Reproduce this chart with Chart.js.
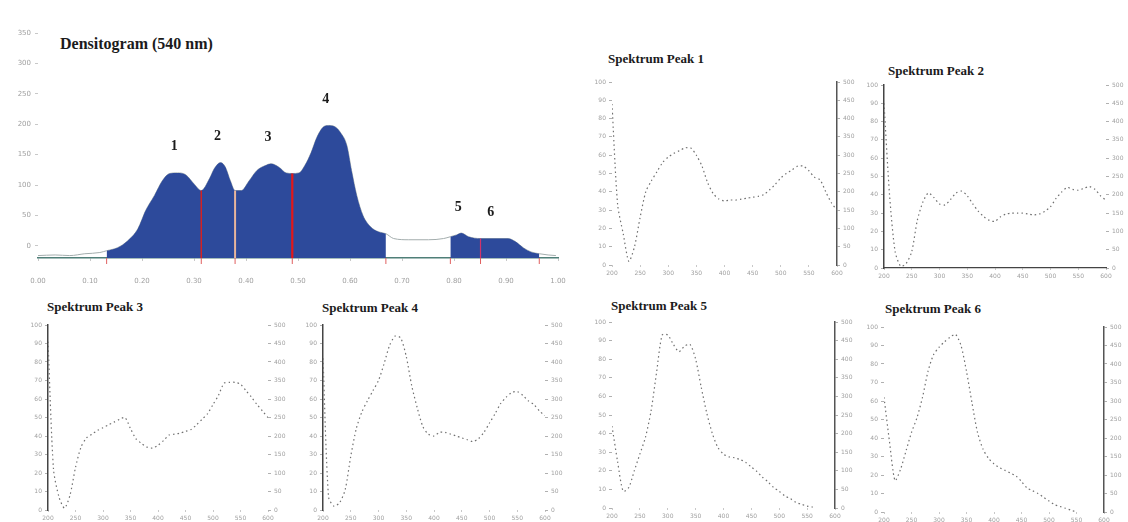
<!DOCTYPE html>
<html>
<head>
<meta charset="utf-8">
<script src="https://cdn.jsdelivr.net/npm/chart.js@4.4.1/dist/chart.umd.min.js"></script>
<style>
  body { margin: 0; background: #fff; width: 1128px; height: 522px; position: relative; overflow: hidden; }
  .ttl { position: absolute; font-family: "Liberation Serif", serif; font-weight: bold; color: #1b1b1b; white-space: nowrap; }
</style>
</head>
<body>
<div class="ttl" style="left:60px;top:35px;font-size:16px">Densitogram (540 nm)</div>
<div class="ttl" style="left:608px;top:51px;font-size:13px">Spektrum Peak 1</div>
<div class="ttl" style="left:888px;top:63px;font-size:13px">Spektrum Peak 2</div>
<div class="ttl" style="left:47px;top:299px;font-size:13px">Spektrum Peak 3</div>
<div class="ttl" style="left:322px;top:300px;font-size:13px">Spektrum Peak 4</div>
<div class="ttl" style="left:611px;top:298px;font-size:13px">Spektrum Peak 5</div>
<div class="ttl" style="left:885px;top:301px;font-size:13px">Spektrum Peak 6</div>
<script>
// densitogram (Rf vs AU)
const densX = [0.000, 0.033, 0.061, 0.090, 0.119, 0.132, 0.153, 0.172, 0.192, 0.207, 0.224, 0.239, 0.253, 0.268, 0.284, 0.301,
  0.314, 0.330, 0.339, 0.351, 0.360, 0.370, 0.379, 0.391, 0.406, 0.421, 0.437, 0.448, 0.464, 0.477, 0.489, 0.502,
  0.513, 0.525, 0.536, 0.548, 0.559, 0.571, 0.582, 0.594, 0.603, 0.613, 0.625, 0.640, 0.655, 0.669, 0.684, 0.713,
  0.751, 0.780, 0.793, 0.805, 0.814, 0.828, 0.851, 0.875, 0.904, 0.918, 0.933, 0.948, 0.964, 0.981, 0.996];
const densY = [-16, -15, -16, -13, -11, -8, -3, 8, 28, 58, 83, 107, 119, 120, 117, 101,
  91, 111, 127, 137, 130, 107, 91, 91, 107, 124, 132, 135, 129, 120, 119, 120,
  132, 153, 178, 195, 198, 196, 186, 165, 124, 83, 50, 31, 23, 20, 12, 10,
  10, 12, 15, 18, 21, 15, 12, 12, 12, 7, -3, -10, -13, -15, -16];
const peakNames = ['1', '2', '3', '4', '5', '6'];
const peakStart = [0.132, 0.314, 0.379, 0.489, 0.793, 0.851];
const peakEnd = [0.314, 0.379, 0.489, 0.669, 0.851, 0.964];
const densXTicks = [0, 0.1, 0.2, 0.3, 0.4, 0.5, 0.6, 0.7, 0.8, 0.9, 1.0];
const densYTicks = [0, 50, 100, 150, 200, 250, 300, 350];

// spectra
const wavelengths = [200, 210, 220, 230, 240, 250, 260, 270, 280, 290, 300, 310, 320, 330, 340, 350, 360, 370, 380, 390,
  400, 410, 420, 430, 440, 450, 460, 470, 480, 490, 500, 510, 520, 530, 540, 550, 560, 570, 580, 590, 600];
const peak1 = [88, 33, 17, 2, 10, 26, 40, 46, 51, 56, 59, 61, 62.5, 64, 64, 60, 54, 45, 39, 36,
  35, 35.5, 35.5, 36, 36.5, 37, 37.5, 38.5, 41, 44, 47.5, 50, 52, 54, 54, 51.5, 48, 46.5, 40, 34, 30];
const peak2 = [90, 40, 9, 1, 2.5, 9, 26, 36, 41, 38.5, 35, 34.5, 37.5, 41, 42, 39.5, 35, 31, 28, 26,
  25.5, 28, 29.5, 30, 30, 30, 29.5, 29, 29.5, 31, 33.5, 38, 41.5, 44, 43, 42.5, 43.5, 44.5, 43, 39.5, 37];
const peak3 = [91, 22, 7, 1, 8, 23, 34, 39, 41, 43, 44.5, 46, 47.5, 49, 50, 44, 38.5, 36, 34, 33.5,
  35, 37.5, 40.5, 41, 41.5, 42.5, 43.5, 46, 49, 52, 57, 62, 68.5, 69, 69, 68, 64.5, 61, 57, 53.5, 50];
const peak4 = [82, 7, 2, 4, 11, 29, 44, 53, 59, 64.5, 70, 79, 89, 94, 93, 83, 67, 55, 45, 41,
  40, 42, 42, 41, 40, 39, 38, 37, 38.5, 42, 47, 52, 57.5, 61, 63.5, 64, 62, 59, 57, 53.5, 51];
const peak5 = [44, 25, 9, 11, 20, 29, 38, 52, 73, 93, 93, 88, 84, 87, 88, 80, 65, 51, 40, 32.5,
  29, 27.5, 27, 26, 24.5, 22, 19.6, 16.5, 14, 11, 9, 6.5, 5, 3, 2, 1, 0.5];
const peak6 = [62, 38, 17, 23, 33, 43, 51, 62, 76, 85, 89, 92, 94.5, 96, 90, 76, 59, 43, 34, 29,
  26, 24, 22.5, 21, 19.5, 16.5, 13, 11.5, 10, 8, 6, 4, 3, 2, 1, 0];
const specXTicks = [200, 250, 300, 350, 400, 450, 500, 550, 600];
const specYTicks = [0, 10, 20, 30, 40, 50, 60, 70, 80, 90, 100];
const specRightLabels = ['0', '50', '100', '150', '200', '250', '300', '350', '400', '450', '500'];

const tickFont = { family: 'DejaVu Sans', size: 6 };
const tickColor = '#a0a0a0';

const makeCtx = (box) => {
  const canvas = document.createElement('canvas');
  canvas.setAttribute('width', box.w);
  canvas.setAttribute('height', box.h);
  canvas.style.cssText = `position:absolute;left:${box.x}px;top:${box.y}px;`;
  document.body.appendChild(canvas);
  return canvas.getContext('2d');
};

const setTicks = (list) => (scale) => { scale.ticks = list.map((v) => ({ value: v })); };

// ---------- densitogram ----------
const densBox = { x: 0, y: 20, w: 570, h: 282 };
const densPlot = { left: 38, right: 558, top: 30, bottom: 258 };

const inPeak = (x) => peakStart.some((s, i) => x >= s && x <= peakEnd[i]);

const densMarks = {
  id: 'densMarks',
  afterDatasetsDraw(chart) {
    const { ctx, scales: { x, y } } = chart;
    const base = y.getPixelForValue(y.min);
    // small markers on the axis at every boundary
    ctx.save();
    ctx.strokeStyle = '#e06060';
    ctx.lineWidth = 1;
    [...new Set([...peakStart, ...peakEnd])].forEach((b) => {
      const px = x.getPixelForValue(b);
      ctx.beginPath();
      ctx.moveTo(px, base);
      ctx.lineTo(px, base + 6);
      ctx.stroke();
    });
    // red separators between touching peaks
    const sepColors = ['#d42222', '#e8b59c', '#e41818', '#d2336a'];
    const sepWidths = [1.5, 2, 2.2, 1.2];
    let k = 0;
    peakEnd.forEach((end, i) => {
      if (peakStart[i + 1] !== end) return;
      const idx = densX.indexOf(end);
      const px = x.getPixelForValue(end);
      ctx.strokeStyle = sepColors[k];
      ctx.lineWidth = sepWidths[k];
      ctx.beginPath();
      ctx.moveTo(px, base);
      ctx.lineTo(px, y.getPixelForValue(densY[idx]));
      ctx.stroke();
      k++;
    });
    // peak numbers above each apex (centre of the highest points)
    ctx.fillStyle = '#1b1b1b';
    ctx.font = 'bold 14px "Liberation Serif"';
    ctx.textAlign = 'center';
    ctx.textBaseline = 'middle';
    peakNames.forEach((name, i) => {
      const idx = densX.map((xv, j) => j).filter((j) => densX[j] >= peakStart[i] && densX[j] <= peakEnd[i]);
      const top = Math.max(...idx.map((j) => densY[j]));
      const tops = idx.filter((j) => densY[j] === top);
      const xc = tops.reduce((a, j) => a + densX[j], 0) / tops.length;
      ctx.fillText(name, x.getPixelForValue(xc) - 3, y.getPixelForValue(top) - 26);
    });
    ctx.restore();
  }
};

new Chart(makeCtx(densBox), {
  type: 'line',
  data: {
    datasets: [
      {
        data: densX.map((x, i) => ({ x, y: inPeak(x) ? densY[i] : null })),
        backgroundColor: '#2d4a9b',
        borderWidth: 0,
        fill: 'start',
        spanGaps: false,
        pointRadius: 0,
        cubicInterpolationMode: 'monotone'
      },
      {
        data: densX.map((x, i) => ({ x, y: densY[i] })),
        borderColor: '#a3adad',
        borderWidth: 1,
        fill: false,
        pointRadius: 0,
        cubicInterpolationMode: 'monotone'
      }
    ]
  },
  options: {
    responsive: false,
    animation: false,
    devicePixelRatio: 1,
    layout: { padding: { top: densPlot.top - densBox.y, right: 0, left: 0, bottom: 0 } },
    plugins: { legend: { display: false }, tooltip: { enabled: false } },
    scales: {
      x: {
        type: 'linear', min: 0, max: 1,
        afterBuildTicks: setTicks(densXTicks),
        afterFit: (s) => {
          s.height = densBox.y + densBox.h - densPlot.bottom;
          s.paddingLeft = 0;
          s.paddingRight = densBox.x + densBox.w - densPlot.right;
        },
        grid: { display: true, drawOnChartArea: false, tickLength: 3, color: '#c8c8c8' },
        border: { display: true, color: '#4f7f78', width: 1.5 },
        ticks: { font: { family: 'DejaVu Sans', size: 7 }, color: tickColor, maxRotation: 0, autoSkip: false, padding: 16,
          callback: (v) => v.toFixed(2) }
      },
      y: {
        min: -20, max: 355,
        afterBuildTicks: setTicks(densYTicks),
        afterFit: (s) => { s.width = densPlot.left - densBox.x; },
        grid: { display: true, drawOnChartArea: false, tickLength: 3, color: '#c8c8c8' },
        border: { display: false },
        ticks: { font: { family: 'DejaVu Sans', size: 7 }, color: tickColor, padding: 4 }
      }
    }
  },
  plugins: [densMarks]
});

// ---------- spectra ----------
const createSpectrum = (values, box, plot, borders) => {
  new Chart(makeCtx(box), {
    type: 'line',
    data: {
      datasets: [{
        data: values.map((v, i) => ({ x: wavelengths[i], y: v })),
        borderColor: '#707070',
        borderDash: [1.5, 3],
        borderWidth: 1.2,
        pointRadius: 0,
        fill: false,
        tension: 0.25
      }]
    },
    options: {
      responsive: false,
      animation: false,
      devicePixelRatio: 1,
      layout: { padding: { top: plot.top - box.y, left: 0, right: 0, bottom: 0 } },
      plugins: { legend: { display: false }, tooltip: { enabled: false } },
      scales: {
        x: {
          type: 'linear', min: 200, max: 600,
          afterBuildTicks: setTicks(specXTicks),
          afterFit: (s) => { s.height = box.y + box.h - plot.bottom; },
          grid: { display: true, drawOnChartArea: false, tickLength: 2, color: '#c8c8c8' },
          border: { display: borders.bottom, color: '#444', width: 1.3 },
          ticks: { font: tickFont, color: tickColor, maxRotation: 0, autoSkip: false, padding: 3 }
        },
        y: {
          position: 'left', min: 0, max: 100,
          afterBuildTicks: setTicks(specYTicks),
          afterFit: (s) => { s.width = plot.left - box.x; },
          grid: { display: true, drawOnChartArea: false, tickLength: 3, color: '#b0b0b0' },
          border: { display: borders.left, color: '#444', width: 1.5 },
          ticks: { font: tickFont, color: tickColor, padding: 3 }
        },
        y2: {
          position: 'right', min: 0, max: 100,
          afterBuildTicks: setTicks(specYTicks),
          afterFit: (s) => { s.width = box.x + box.w - plot.right; },
          grid: { display: true, drawOnChartArea: false, tickLength: 3, color: '#b0b0b0' },
          border: { display: borders.right, color: '#555', width: 1.5 },
          ticks: { font: tickFont, color: tickColor, padding: 3, callback: (v, i) => specRightLabels[i] }
        }
      }
    }
  });
};

createSpectrum(peak1, { x: 585, y: 75, w: 275, h: 215 }, { left: 612, right: 837, top: 82, bottom: 265 },
  { left: false, right: true, bottom: false });
createSpectrum(peak2, { x: 858, y: 78, w: 270, h: 214 }, { left: 884, right: 1106, top: 85, bottom: 268 },
  { left: true, right: false, bottom: true });
createSpectrum(peak3, { x: 20, y: 318, w: 275, h: 204 }, { left: 48, right: 268, top: 325, bottom: 510 },
  { left: true, right: false, bottom: false });
createSpectrum(peak4, { x: 295, y: 318, w: 280, h: 204 }, { left: 323, right: 545, top: 325, bottom: 510 },
  { left: true, right: false, bottom: false });
createSpectrum(peak5, { x: 585, y: 315, w: 275, h: 207 }, { left: 612, right: 835, top: 322, bottom: 508 },
  { left: false, right: true, bottom: false });
createSpectrum(peak6, { x: 858, y: 320, w: 270, h: 202 }, { left: 884, right: 1104, top: 327, bottom: 512 },
  { left: false, right: true, bottom: false });
</script>
</body>
</html>
